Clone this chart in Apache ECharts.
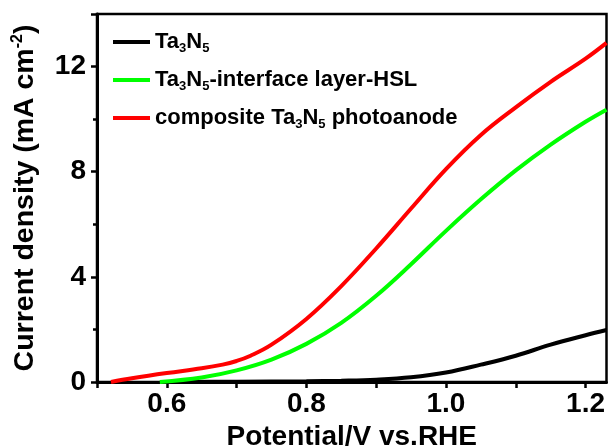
<!DOCTYPE html>
<html lang="en">
<head>
	<meta charset="UTF-8">
	<title>Ta3N5 LSV</title>
	<style>
		html, body { margin: 0; padding: 0; background: #fff; }
	</style>
</head>
<body>
	<div id="main" style="width: 608px;height: 448px"></div>

	<script src="https://cdn.jsdelivr.net/npm/echarts@6/dist/echarts.min.js"></script>
	<script type="text/javascript">
	// potential (V vs RHE) / current density (mA cm-2)
	var bareX = [0.6, 0.7, 0.8, 0.85, 0.9, 0.95, 1.0, 1.05, 1.1, 1.15, 1.2, 1.23];
	var bareY = [0, 0.01, 0.03, 0.05, 0.09, 0.18, 0.36, 0.66, 1.0, 1.42, 1.78, 1.98];

	var hslX = [0.59, 0.65, 0.7, 0.75, 0.8, 0.85, 0.9, 0.95, 1.0, 1.05, 1.1, 1.15, 1.2, 1.23];
	var hslY = [0, 0.17, 0.44, 0.85, 1.45, 2.25, 3.28, 4.48, 5.75, 6.95, 8.05, 9.03, 9.9, 10.36];

	var compX = [0.52, 0.55, 0.6, 0.65, 0.68, 0.7, 0.72, 0.75, 0.8, 0.85, 0.9, 0.95, 1.0, 1.05, 1.1, 1.15, 1.2, 1.23];
	var compY = [0, 0.14, 0.34, 0.52, 0.66, 0.8, 1.0, 1.42, 2.4, 3.65, 5.08, 6.6, 8.1, 9.4, 10.45, 11.42, 12.3, 12.9];

	var names = ['Ta3N5', 'Ta3N5-interface layer-HSL', 'composite Ta3N5 photoanode'];
	var colors = ['#000000', '#00ff00', '#ff0000'];

	function pairs(xs, ys) {
		var out = [];
		for (var i = 0; i < xs.length; i++) {
			out.push([xs[i], ys[i]]);
		}
		return out;
	}

	// Ta3N5 -> rich text with subscripts
	function richName(s) {
		var parts = s.split('Ta3N5');
		var out = '';
		for (var i = 0; i < parts.length; i++) {
			if (parts[i]) out += '{n|' + parts[i] + '}';
			if (i < parts.length - 1) out += '{n|Ta}{s|3}{n|N}{s|5}';
		}
		return out;
	}

	var myChart = echarts.init(document.getElementById('main'));

	var font = 'Liberation Sans, Arial, sans-serif';

	var option = {
		animation: false,
		backgroundColor: '#fff',
		grid: {
			left: 97, right: 1.5, top: 14, bottom: 66,
			outerBoundsMode: 'none',
			show: true, borderColor: '#000', borderWidth: 2.5
		},
		legend: {
			orient: 'vertical',
			left: 113, top: 31, padding: 0,
			icon: 'rect',
			itemWidth: 37, itemHeight: 4,
			itemGap: 14, itemTextGap: 3,
			data: names,
			formatter: richName,
			textStyle: {
				fontFamily: font, fontWeight: 'bold', color: '#000',
				rich: {
					n: { fontSize: 22, fontWeight: 'bold', fontFamily: font, lineHeight: 26, color: '#000' },
					s: { fontSize: 13, fontWeight: 'bold', fontFamily: font, lineHeight: 14, verticalAlign: 'bottom', color: '#000' }
				}
			}
		},
		xAxis: {
			type: 'value',
			min: 0.5, max: 1.23, interval: 0.1,
			name: 'Potential/V vs.RHE',
			nameLocation: 'middle', nameGap: 37,
			nameTextStyle: { fontFamily: font, fontWeight: 'bold', fontSize: 28, color: '#000' },
			axisLine: { lineStyle: { color: '#000', width: 3 } },
			axisTick: { length: 6, lineStyle: { color: '#000', width: 2.5 } },
			splitLine: { show: false },
			axisLabel: {
				margin: 8, color: '#000', fontFamily: font, fontWeight: 'bold', fontSize: 28,
				showMaxLabel: false,
				formatter: function (v) {
					var k = Math.round(v * 10);
					if (Math.abs(v * 10 - k) > 1e-6 || k % 2 !== 0) return '';
					return (k / 10).toFixed(1);
				}
			}
		},
		yAxis: {
			type: 'value',
			min: 0, max: 14, interval: 4,
			name: '{n|Current density (mA cm}{p|-2}{n|)}',
			nameLocation: 'middle', nameGap: 57,
			nameTextStyle: {
				color: '#000',
				rich: {
					n: { fontFamily: font, fontWeight: 'bold', fontSize: 28.5, lineHeight: 30, color: '#000' },
					p: { fontFamily: font, fontWeight: 'bold', fontSize: 16, lineHeight: 16, verticalAlign: 'top', color: '#000' }
				}
			},
			axisLine: { lineStyle: { color: '#000', width: 3 } },
			axisTick: { length: 6, lineStyle: { color: '#000', width: 2.5 } },
			minorTick: { show: true, splitNumber: 2, length: 4, lineStyle: { color: '#000', width: 2.5 } },
			splitLine: { show: false },
			axisLabel: {
				margin: 11, color: '#000', fontFamily: font, fontWeight: 'bold', fontSize: 28,
				showMaxLabel: false
			}
		},
		series: [
			{ name: names[0], type: 'line', data: pairs(bareX, bareY), smooth: 0.4, showSymbol: false, lineStyle: { color: colors[0], width: 4 }, itemStyle: { color: colors[0] }, z: 3 },
			{ name: names[1], type: 'line', data: pairs(hslX, hslY), smooth: 0.4, showSymbol: false, lineStyle: { color: colors[1], width: 4 }, itemStyle: { color: colors[1] }, z: 4 },
			{ name: names[2], type: 'line', data: pairs(compX, compY), smooth: 0.4, showSymbol: false, lineStyle: { color: colors[2], width: 4 }, itemStyle: { color: colors[2] }, z: 5 }
		]
	};
	myChart.setOption(option);
	</script>
</body>
</html>
